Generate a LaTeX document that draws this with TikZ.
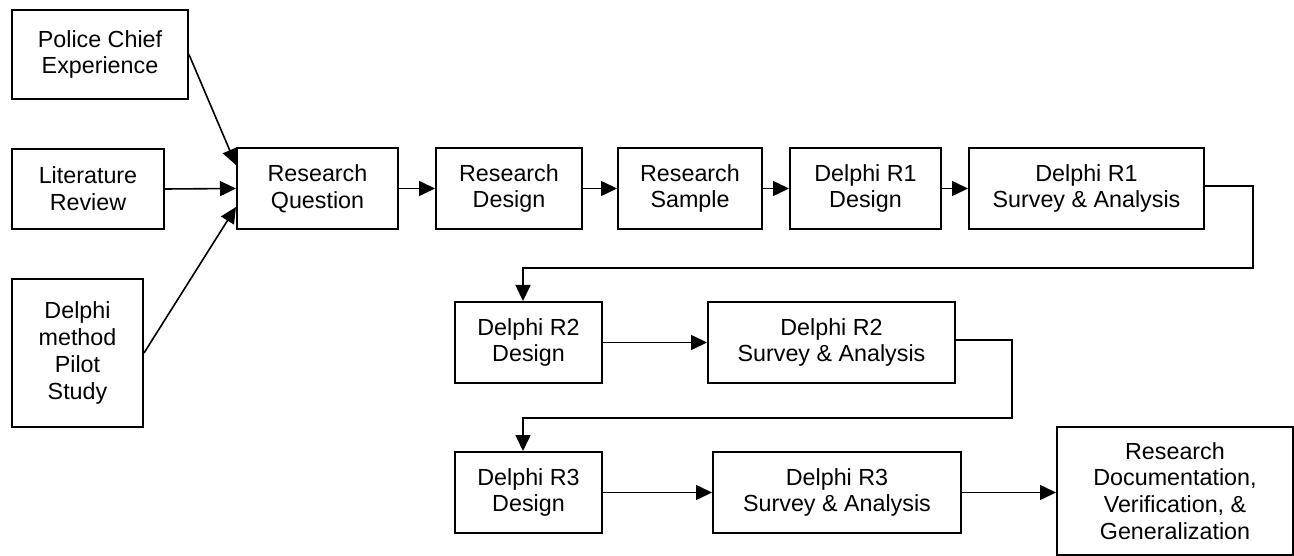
\documentclass[tikz,border=0pt]{standalone}
\usepackage{fontspec}
\setmainfont{Liberation Sans}
\usetikzlibrary{arrows.meta}
\begin{document}
\begin{tikzpicture}[x=1pt,y=-1pt,
  box/.style={draw=black, line width=2pt, rectangle, align=center, inner sep=0pt,
    font=\fontsize{23.3}{26.8}\selectfont},
  arr/.style={draw=black, line width=1.6pt, -{Triangle[length=16pt,width=15pt]}}]
\useasboundingbox[fill=white] (0,0) rectangle (1294,556);
% left column
\node[box, minimum width=176pt, minimum height=89pt] (pce) at (100,54.5) {Police Chief\\Experience};
\node[box, minimum width=152pt, minimum height=80pt] (lit) at (88,189) {Literature\\Review};
\node[box, minimum width=131pt, minimum height=148pt] (pil) at (77.5,353) {Delphi\\method\\Pilot\\Study};
% first row
\node[box, minimum width=161pt, minimum height=81pt] (rq) at (317.5,188.5) {Research\\Question};
\node[box, minimum width=146pt, minimum height=81pt] (rd) at (509,188.5) {Research\\Design};
\node[box, minimum width=144pt, minimum height=81pt] (rs) at (690,188.5) {Research\\Sample};
\node[box, minimum width=151pt, minimum height=81pt] (r1d) at (865.5,188.5) {Delphi R1\\Design};
\node[box, minimum width=235pt, minimum height=81pt] (r1s) at (1086.5,188.5) {Delphi R1\\Survey \& Analysis};
% second row
\node[box, minimum width=147pt, minimum height=81pt] (r2d) at (528.5,342.5) {Delphi R2\\Design};
\node[box, minimum width=247pt, minimum height=81pt] (r2s) at (831.5,342.5) {Delphi R2\\Survey \& Analysis};
% third row
\node[box, minimum width=147pt, minimum height=81pt] (r3d) at (528.5,492.5) {Delphi R3\\Design};
\node[box, minimum width=248pt, minimum height=81pt] (r3s) at (837,492.5) {Delphi R3\\Survey \& Analysis};
\node[box, minimum width=236pt, minimum height=128pt] (doc) at (1175,491) {Research\\Documentation,\\Verification, \&\\Generalization};
% bend points
\coordinate (c1) at (1253,268);
\coordinate (c2) at (1012,418);
% connectors
\draw[arr] (pce.east) -- ([yshift=23.5pt]rq.west);
\draw[arr] (lit.east) -- (rq.west);
\draw[arr] (pil.east) -- ([yshift=-18.5pt]rq.west);
\draw[arr] (rq.east) -- (rd.west);
\draw[arr] (rd.east) -- (rs.west);
\draw[arr] (rs.east) -- (r1d.west);
\draw[arr] (r1d.east) -- (r1s.west);
\draw[arr] ([yshift=2.5pt]r1s.east) -| (c1) -| ([xshift=-5.5pt]r2d.north);
\draw[arr] (r2d.east) -- (r2s.west);
\draw[arr] ([yshift=2.5pt]r2s.east) -| (c2) -| ([xshift=-5.5pt]r3d.north);
\draw[arr] (r3d.east) -- (r3s.west);
\draw[arr] (r3s.east) -- (r3s.east -| doc.west);
\end{tikzpicture}
\end{document}
